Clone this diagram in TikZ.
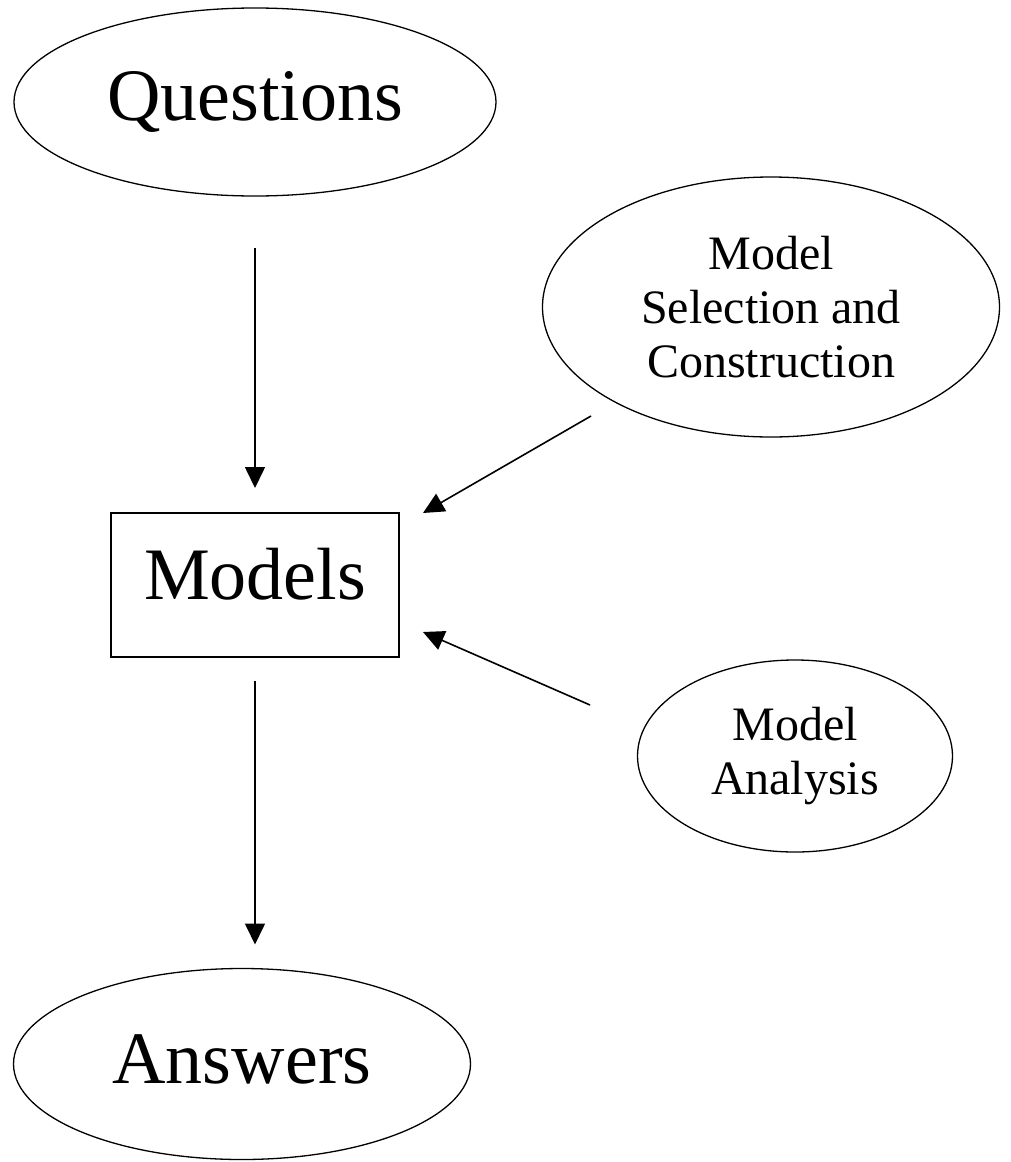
\documentclass[tikz,border=0pt]{standalone}
\usepackage{fontspec}
\setmainfont{Liberation Serif}
\usetikzlibrary{shapes.geometric,arrows.meta,calc}
\begin{document}
\begin{tikzpicture}[x=1pt,y=-1pt,
  shp/.style={draw=black,line width=1.3pt,inner sep=0pt,outer sep=0pt},
  oval/.style={shp,ellipse},
  big/.style={font=\fontsize{74}{80}\selectfont},
  small/.style={font=\fontsize{48}{54}\selectfont,align=center},
  arr/.style={line width=1.6pt,-{Triangle[length=21pt,width=20pt]}}]
\useasboundingbox (0,0) rectangle (1011,1162);
\node[oval,big,minimum width=482pt,minimum height=188pt,text height=37pt,text depth=0pt] (q) at (255,102) {Questions};
\node[shp,big,minimum width=288pt,minimum height=144pt,text height=28pt,text depth=0pt] (m) at (255,585) {Models};
\node[oval,big,minimum width=457pt,minimum height=191pt,text height=38pt,text depth=0pt] (a) at (242,1064) {Answers};
\node[oval,small,minimum width=457pt,minimum height=260pt] (s) at (771,307) {Model\\Selection and\\Construction};
\node[oval,small,minimum width=315pt,minimum height=192pt] (n) at (795,756) {Model\\Analysis};
\coordinate (s1) at (591,416);
\coordinate (t1) at (423,513);
\coordinate (s2) at (590,705);
\coordinate (t2) at (423,632);
\draw[arr,shorten <=52pt,shorten >=25pt] (q) -- (m);
\draw[arr,shorten <=24pt,shorten >=24pt] (m.south) -- (m.south |- a.north);
\draw[arr] (s1) -- (t1);
\draw[arr] (s2) -- (t2);
\end{tikzpicture}
\end{document}
